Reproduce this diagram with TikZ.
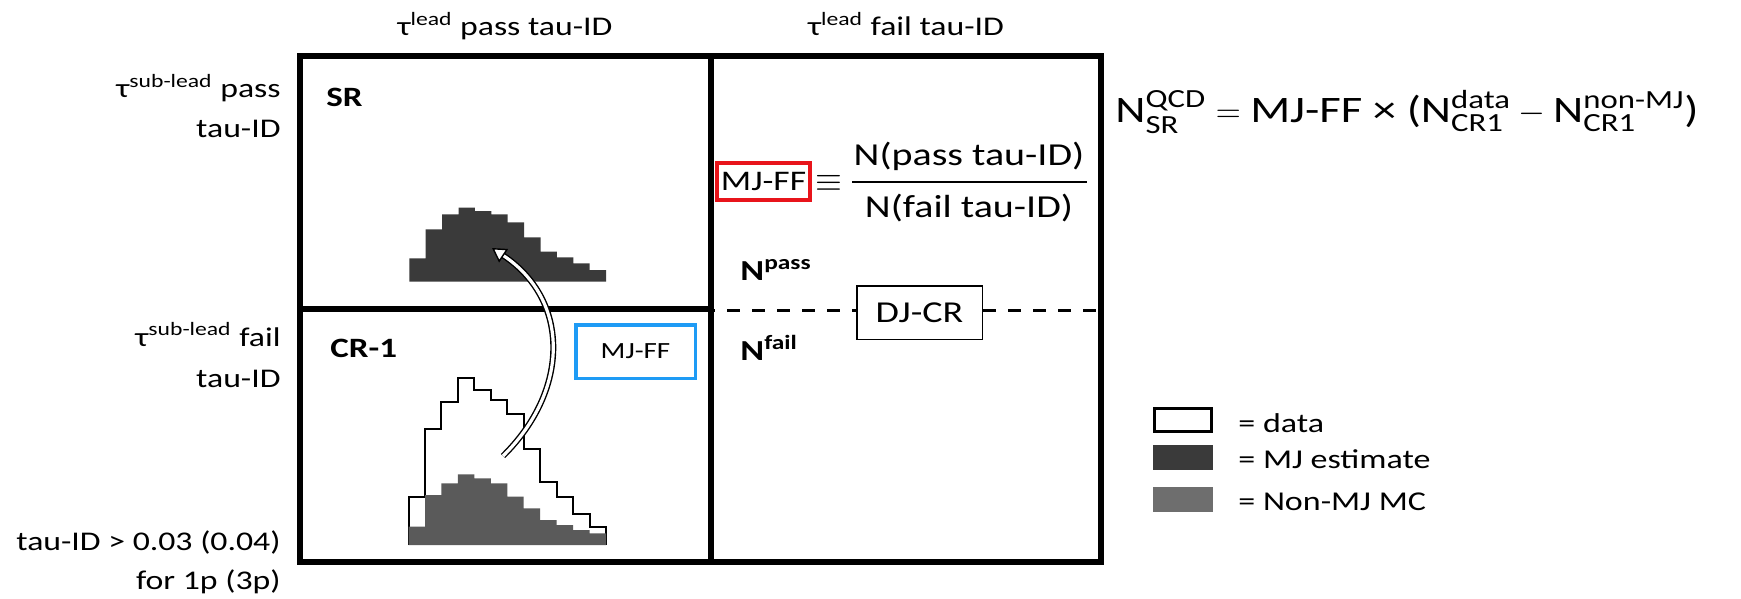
\documentclass[tikz,border=0pt]{standalone}
\usepackage{fontspec}
\usepackage{amsmath}
\setmainfont{Carlito}[FakeStretch=1.25]
\usetikzlibrary{arrows.meta}

\definecolor{mjdark}{HTML}{3A3A3A}
\definecolor{nonmj}{HTML}{5A5A5A}
\definecolor{nonmjkey}{HTML}{6E6E6E}
\definecolor{ffblue}{HTML}{1E9BF5}
\definecolor{ffred}{HTML}{E8141B}

\newcommand\fsz[1]{\fontsize{#1pt}{#1pt}\selectfont}

\tikzset{
  frame/.style={line width=3.25pt, line join=miter},
  lbl/.style={inner sep=0pt, font=\fsz{13.5}},
  region/.style={inner sep=0pt, font=\fsz{14}\bfseries},
  npf/.style={inner sep=0pt, font=\fsz{14.5}\bfseries},
  fracpart/.style={inner sep=0pt, font=\fsz{16}},
  redbox/.style={draw=ffred, line width=2pt, inner sep=0pt,
    minimum width=46.5pt, minimum height=18.5pt, font=\fsz{14.2}},
  bluebox/.style={draw=ffblue, line width=1.75pt, inner sep=0pt,
    minimum width=59.75pt, minimum height=26.75pt, font=\fsz{11.6}},
  djbox/.style={draw, line width=0.75pt, fill=white, inner sep=0pt,
    minimum width=62.75pt, minimum height=26.75pt, font=\fsz{15.2}},
  dashln/.style={line width=1.5pt, dash pattern=on 6.3pt off 6.2pt},
  keybox/.style={inner sep=0pt, minimum width=30pt, minimum height=12.5pt},
  keytxt/.style={inner sep=0pt, font=\fsz{13.6}},
  ffarrow/.style={line width=0.7pt, double=white, double distance=1.6pt,
    -{Triangle[open, fill=white, length=7pt, width=8pt]}},
  hdata/.style={fill=white, draw=black, line width=1pt, line join=miter},
}

\begin{document}
\begin{tikzpicture}[x=0.5pt, y=-0.5pt]
\useasboundingbox (0,0) rectangle (1741,599);

% ---- two-by-two grid of regions ----
\coordinate (tl) at (300,56);
\coordinate (br) at (1101,562);
\coordinate (mt) at (711,56);
\coordinate (mb) at (711,562);
\coordinate (ml) at (300,309);
\coordinate (mm) at (711,309);
\coordinate (dl) at (711,310);
\coordinate (dr) at (1101,310);
\draw[frame] (tl) rectangle (br);
\draw[frame] (mt) -- (mb);
\draw[frame] (ml) -- (mm);

% ---- column and row headings ----
\node[lbl, anchor=base] (hpass) at (505,36) {τ\textsuperscript{lead} pass tau-ID};
\node[lbl, anchor=base] (hfail) at (906,36) {τ\textsuperscript{lead} fail tau-ID};
\node[lbl, anchor=base east] (rpassa) at (281,98) {τ\textsuperscript{sub-lead} pass};
\node[lbl, anchor=base east] (rpassb) at (281,138) {tau-ID};
\node[lbl, anchor=base east] (rfaila) at (281,346) {τ\textsuperscript{sub-lead} fail};
\node[lbl, anchor=base east] (rfailb) at (281,387) {tau-ID};
\node[lbl, anchor=base east] (cuta) at (281,550) {tau-ID > 0.03 (0.04)};
\node[lbl, anchor=base east] (cutb) at (281,589) {for 1p (3p)};

% ---- region names ----
\node[region, anchor=base west] (sr) at (326,107) {SR};
\node[region, anchor=base west] (cr) at (330,357) {CR-1};

% ---- SR: multijet estimate ----
\fill[mjdark] (409.3,281.7) |- (425.7,258.3) |- (442.1,229.3) |- (458.5,214.3)
  |- (474.9,207.7) |- (491.3,211) |- (507.7,214.3) |- (524.1,222.3)
  |- (540.5,237.3) |- (556.9,251.7) |- (573.3,257.3) |- (589.7,263.3)
  |- (606.1,270) -- (606.1,281.7) -- cycle;

% ---- CR-1: data and non-multijet MC ----
\draw[hdata] (408.5,545) |- (425.0,497.3) |- (441.4,429) |- (457.9,401.7)
  |- (474.3,378.3) |- (490.8,390) |- (507.3,400) |- (523.7,414)
  |- (540.2,449.3) |- (556.6,481.7) |- (573.1,496.7) |- (589.6,514)
  |- (606.0,527.3) -- (606.0,545);
\fill[nonmj] (408.5,545) |- (425.0,526.7) |- (441.4,495) |- (457.9,483.3)
  |- (474.3,474.3) |- (490.8,478.3) |- (507.3,483.3) |- (523.7,496.7)
  |- (540.2,508.3) |- (556.6,520) |- (573.1,525) |- (589.6,530)
  |- (606.0,533.3) -- (606.0,545) -- cycle;

% ---- fake-factor transfer from CR-1 to SR ----
\coordinate (arrtail) at (503,456);
\coordinate (arrhead) at (492,248);
\draw[ffarrow] (arrtail) .. controls (570,390) and (570,300) .. (arrhead);

\node[bluebox] (ffcr) at (635.5,351.5) {MJ-FF};

% ---- fake-factor definition ----
\node[redbox] (ffdef) at (763.5,181.5) {MJ-FF};
\node[inner sep=0pt, font=\fsz{17}] (equiv) at (829,183) {$\equiv$};
\node[fracpart, anchor=base] (num) at (969,165) {N(pass tau-ID)};
\node[fracpart, anchor=base] (den) at (969,218) {N(fail tau-ID)};
\coordinate (barl) at (852,182);
\coordinate (barr) at (1087,182);
\draw[line width=1pt] (barl) -- (barr);

% ---- di-jet control region split ----
\node[npf, anchor=base west] (npass) at (740,280) {N\textsuperscript{pass}};
\node[npf, anchor=base west] (nfail) at (740,360) {N\textsuperscript{fail}};
\node[djbox] (djcr) at (919.5,312.5) {DJ-CR};
\draw[dashln, dash phase=4.5pt] (dl) -- (djcr.west |- dl);
\draw[dashln] (djcr.east |- dr) -- (dr);

% ---- QCD estimate in the signal region ----
\node[inner sep=0pt, anchor=base west, font=\fsz{18.7}] (qcd) at (1115,123)
  {$\text{N}^{\text{QCD}}_{\text{SR}} = \text{MJ-FF} \text{ × (}\text{N}^{\text{data}}_{\text{CR1}} - \text{N}^{\text{non-MJ}}_{\text{CR1}}\text{)}$};

% ---- legend ----
\node[keybox, draw, line width=1.5pt, fill=white, minimum width=28.5pt, minimum height=11.5pt] (kdata) at (1183,420) {};
\node[keybox, fill=mjdark] (kmj) at (1183,457.5) {};
\node[keybox, fill=nonmjkey] (knon) at (1183,499.5) {};
\node[keytxt, anchor=base west] (tdata) at (1238,432) {= data};
\node[keytxt, anchor=base west] (tmj) at (1238,468) {= MJ estimate};
\node[keytxt, anchor=base west] (tnon) at (1238,510) {= Non-MJ MC};
\end{tikzpicture}
\end{document}
